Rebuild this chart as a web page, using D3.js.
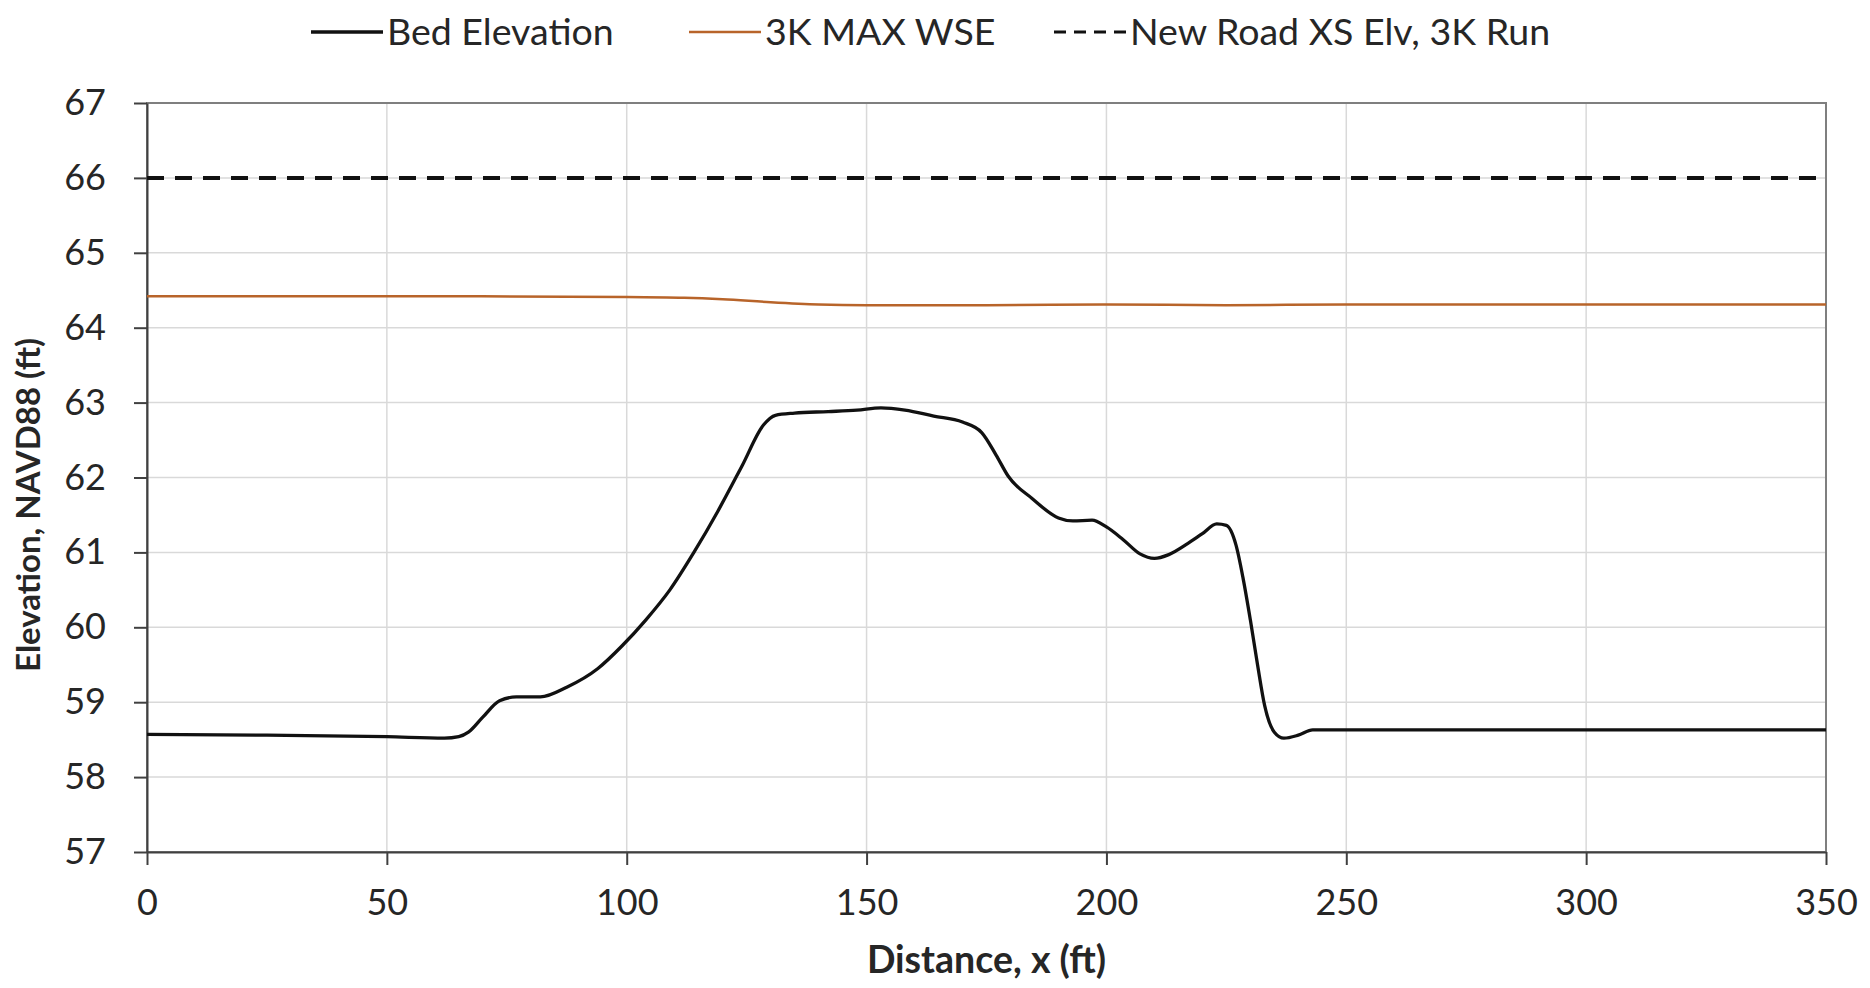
<!DOCTYPE html>
<html>
<head>
<meta charset="utf-8">
<script src="https://cdn.jsdelivr.net/npm/d3@7"></script>
<style>
  body { margin: 0; background: #fff; }
  svg text { font-family: Lato, "Open Sans", sans-serif; fill: #262626; }
</style>
</head>
<body>
<svg id="chart" width="1870" height="988"></svg>
<script>
// bed profile: [distance ft, elevation ft]
const bedElevation = [
  [0, 58.57], [25, 58.56], [50, 58.54], [62, 58.52], [65, 58.54], [67, 58.6],
  [70, 58.8], [73.5, 59.02], [77, 59.07], [82, 59.07], [87.5, 59.2], [94, 59.45],
  [99, 59.75], [104, 60.1], [109, 60.5], [114, 61.0], [119, 61.55], [124, 62.15],
  [128.5, 62.7], [131, 62.83], [135, 62.86], [142, 62.88], [148, 62.9], [153, 62.93],
  [158, 62.9], [164, 62.82], [170, 62.74], [174, 62.6], [177, 62.3], [179.5, 62.02],
  [184.5, 61.72], [190, 61.46], [193, 61.42], [197, 61.43], [200, 61.34], [203.5, 61.17],
  [207, 60.98], [210, 60.92], [213, 60.97], [217, 61.12], [220, 61.25], [223, 61.38],
  [225, 61.36], [227, 61.1], [228.5, 60.65], [230, 60.1], [231.5, 59.5], [233, 58.95],
  [235, 58.6], [237, 58.52], [240, 58.56], [243, 58.63], [250, 58.63], [300, 58.63],
  [350, 58.63]
];

const maxWSE = [
  [0, 64.42], [50, 64.42], [100, 64.41], [112, 64.4], [120, 64.38], [130, 64.34],
  [140, 64.31], [150, 64.3], [175, 64.3], [200, 64.31], [225, 64.3], [250, 64.31],
  [300, 64.31], [350, 64.31]
];

const roadElev = [[0, 66], [350, 66]];

const xTicks = [0, 50, 100, 150, 200, 250, 300, 350];
const yTicks = [57, 58, 59, 60, 61, 62, 63, 64, 65, 66, 67];

const series = [
  { name: "Bed Elevation", data: bedElevation, color: "#111", width: 3.3, dash: null },
  { name: "3K MAX WSE", data: maxWSE, color: "#b8642a", width: 2.5, dash: null },
  { name: "New Road XS Elv, 3K Run", data: roadElev, color: "#111", width: 4, dash: "17,11" }
];

const svg = d3.select("#chart");
const plotL = 147, plotR = 1826, plotT = 103, plotB = 852;

const x = d3.scaleLinear().domain([0, 350]).range([plotL, plotR]);
const y = d3.scaleLinear().domain([57, 67]).range([plotB, plotT]);

// grid
svg.append("g")
  .selectAll("line")
  .data(xTicks.slice(1, -1))
  .join("line")
    .attr("x1", d => x(d)).attr("x2", d => x(d))
    .attr("y1", plotT).attr("y2", plotB)
    .attr("stroke", "#d9d9d9").attr("stroke-width", 1.5);
svg.append("g")
  .selectAll("line")
  .data(yTicks.slice(1, -1))
  .join("line")
    .attr("x1", plotL).attr("x2", plotR)
    .attr("y1", d => y(d)).attr("y2", d => y(d))
    .attr("stroke", "#d9d9d9").attr("stroke-width", 1.5);

// frame
svg.append("rect")
  .attr("x", plotL).attr("y", plotT)
  .attr("width", plotR - plotL).attr("height", plotB - plotT)
  .attr("fill", "none").attr("stroke", "#7f7f7f").attr("stroke-width", 2);

// axes
const xAxis = svg.append("g")
  .attr("transform", `translate(0,${plotB})`)
  .call(d3.axisBottom(x).tickValues(xTicks).tickSize(13).tickPadding(24).tickSizeOuter(0));
const yAxis = svg.append("g")
  .attr("transform", `translate(${plotL},0)`)
  .call(d3.axisLeft(y).tickValues(yTicks).tickSize(13).tickPadding(28).tickSizeOuter(0));

[xAxis, yAxis].forEach(g => {
  g.select(".domain").attr("stroke", "#404040").attr("stroke-width", 2);
  g.selectAll(".tick line").attr("stroke", "#404040").attr("stroke-width", 2);
  g.selectAll(".tick text").attr("font-size", 36).attr("fill", "#262626")
    .style("font-family", "Lato, 'Open Sans', sans-serif");
});

// lines
const line = d3.line()
  .x(d => x(d[0]))
  .y(d => y(d[1]))
  .curve(d3.curveMonotoneX);

series.forEach(s => {
  svg.append("path")
    .datum(s.data)
    .attr("d", line)
    .attr("fill", "none")
    .attr("stroke", s.color)
    .attr("stroke-width", s.width)
    .attr("stroke-dasharray", s.dash);
});

// axis titles
svg.append("text")
  .attr("x", (plotL + plotR) / 2).attr("y", 973)
  .attr("text-anchor", "middle")
  .attr("font-size", 37.5).attr("font-weight", "bold")
  .text("Distance, x (ft)");
svg.append("text")
  .attr("transform", "translate(40,505) rotate(-90)")
  .attr("text-anchor", "middle")
  .attr("font-size", 33).attr("font-weight", "bold")
  .text("Elevation, NAVD88 (ft)");

// legend
const legendX = [311, 689, 1054];
const leg = svg.append("g");
series.forEach((s, i) => {
  const g = leg.append("g").attr("transform", `translate(${legendX[i]},32)`);
  g.append("line")
    .attr("x1", 0).attr("x2", 72)
    .attr("stroke", s.color).attr("stroke-width", s.dash ? 3 : s.width)
    .attr("stroke-dasharray", s.dash ? "12,8" : null);
  g.append("text")
    .attr("x", 76).attr("y", 13)
    .attr("font-size", 37.5)
    .text(s.name);
});
</script>
</body>
</html>
